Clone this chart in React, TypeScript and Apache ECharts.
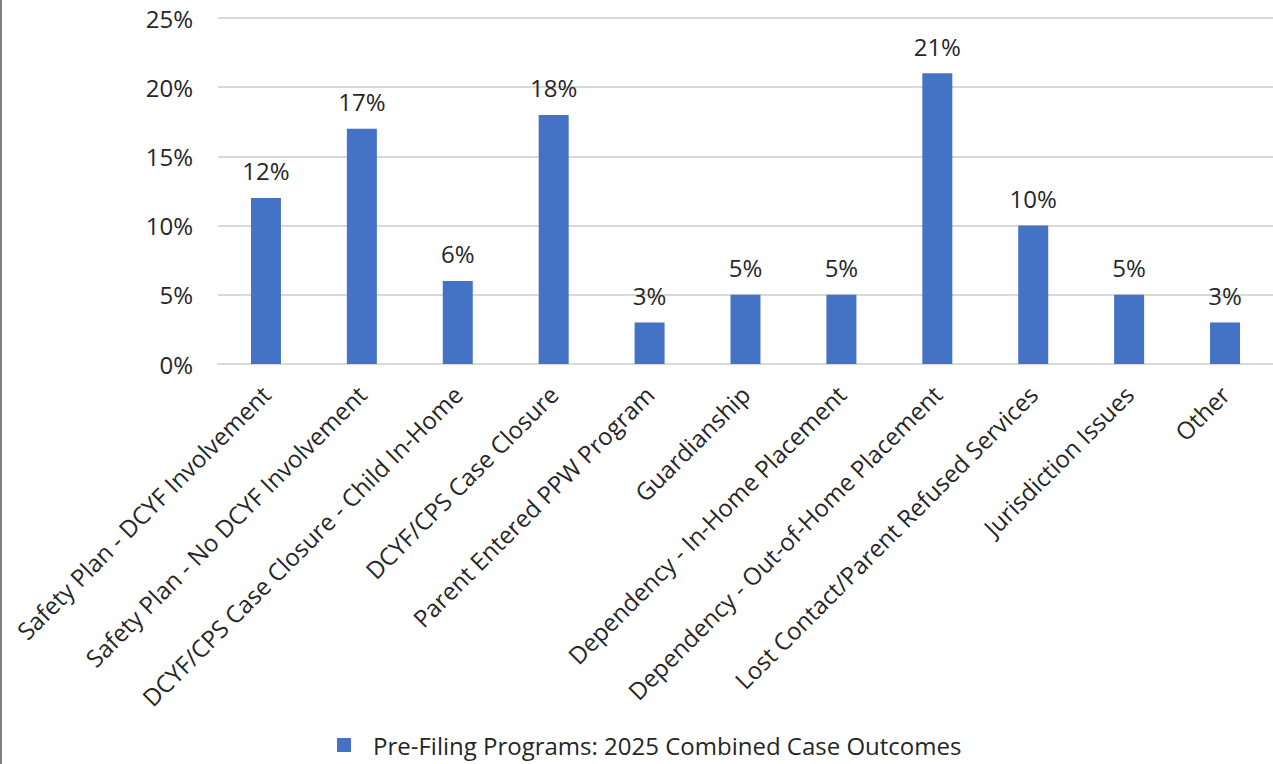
import React, { useEffect, useRef } from "react";
import * as echarts from "echarts";

const categories = [
  "Safety Plan - DCYF Involvement",
  "Safety Plan - No DCYF Involvement",
  "DCYF/CPS Case Closure - Child In-Home",
  "DCYF/CPS Case Closure",
  "Parent Entered PPW Program",
  "Guardianship",
  "Dependency - In-Home Placement",
  "Dependency - Out-of-Home Placement",
  "Lost Contact/Parent Refused Services",
  "Jurisdiction Issues",
  "Other",
];
const values = [12, 17, 6, 18, 3, 5, 5, 21, 10, 5, 3];
const seriesName = "Pre-Filing Programs: 2025 Combined Case Outcomes";
const yTicks = [0, 5, 10, 15, 20, 25];

const FONT = "Open Sans";
const TEXT = "#262626";
const FS = 24;

export default function App() {
  const ref = useRef<HTMLDivElement>(null);
  useEffect(() => {
    if (!ref.current) return;
    const chart = echarts.init(ref.current, null, { renderer: "svg" });
    chart.setOption({
      animation: false,
      backgroundColor: "#ffffff",
      textStyle: { fontFamily: FONT },
      graphic: [
        {
          type: "line",
          shape: { x1: 1, y1: 0, x2: 1, y2: 764 },
          style: { stroke: "#7f7f7f", lineWidth: 2 },
        },
      ],
      grid: { left: 218, right: -3, top: 18, bottom: 400, containLabel: false },
      legend: {
        bottom: 2,
        left: 332,
        itemWidth: 14,
        itemHeight: 14,
        icon: "rect",
        data: [seriesName],
        textStyle: { fontFamily: FONT, fontSize: FS, color: TEXT, padding: [0, 0, 0, 17] },
      },
      xAxis: {
        type: "category",
        data: categories,
        axisTick: { show: false },
        axisLine: { show: true, lineStyle: { color: "#d9d9d9", width: 2 } },
        axisLabel: {
          rotate: 45,
          interval: 0,
          margin: 26,
          fontFamily: FONT,
          fontSize: FS,
          color: TEXT,
        },
      },
      yAxis: {
        type: "value",
        min: yTicks[0],
        max: yTicks[yTicks.length - 1],
        interval: 5,
        axisLine: { show: false },
        axisTick: { show: false },
        splitLine: { lineStyle: { color: "#d9d9d9", width: 2 } },
        axisLabel: {
          formatter: "{value}%",
          margin: 25,
          fontFamily: FONT,
          fontSize: FS,
          color: TEXT,
        },
      },
      series: [
        {
          name: seriesName,
          type: "bar",
          data: values,
          barWidth: 30,
          itemStyle: { color: "#4472C4" },
          label: {
            show: true,
            position: "top",
            distance: 15,
            formatter: "{c}%",
            fontFamily: FONT,
            fontSize: FS,
            color: TEXT,
          },
        },
      ],
    });
    return () => chart.dispose();
  }, []);
  return (
    <div
      ref={ref}
      style={{ position: "fixed", left: 0, top: 0, width: 1273, height: 764 }}
    />
  );
}
